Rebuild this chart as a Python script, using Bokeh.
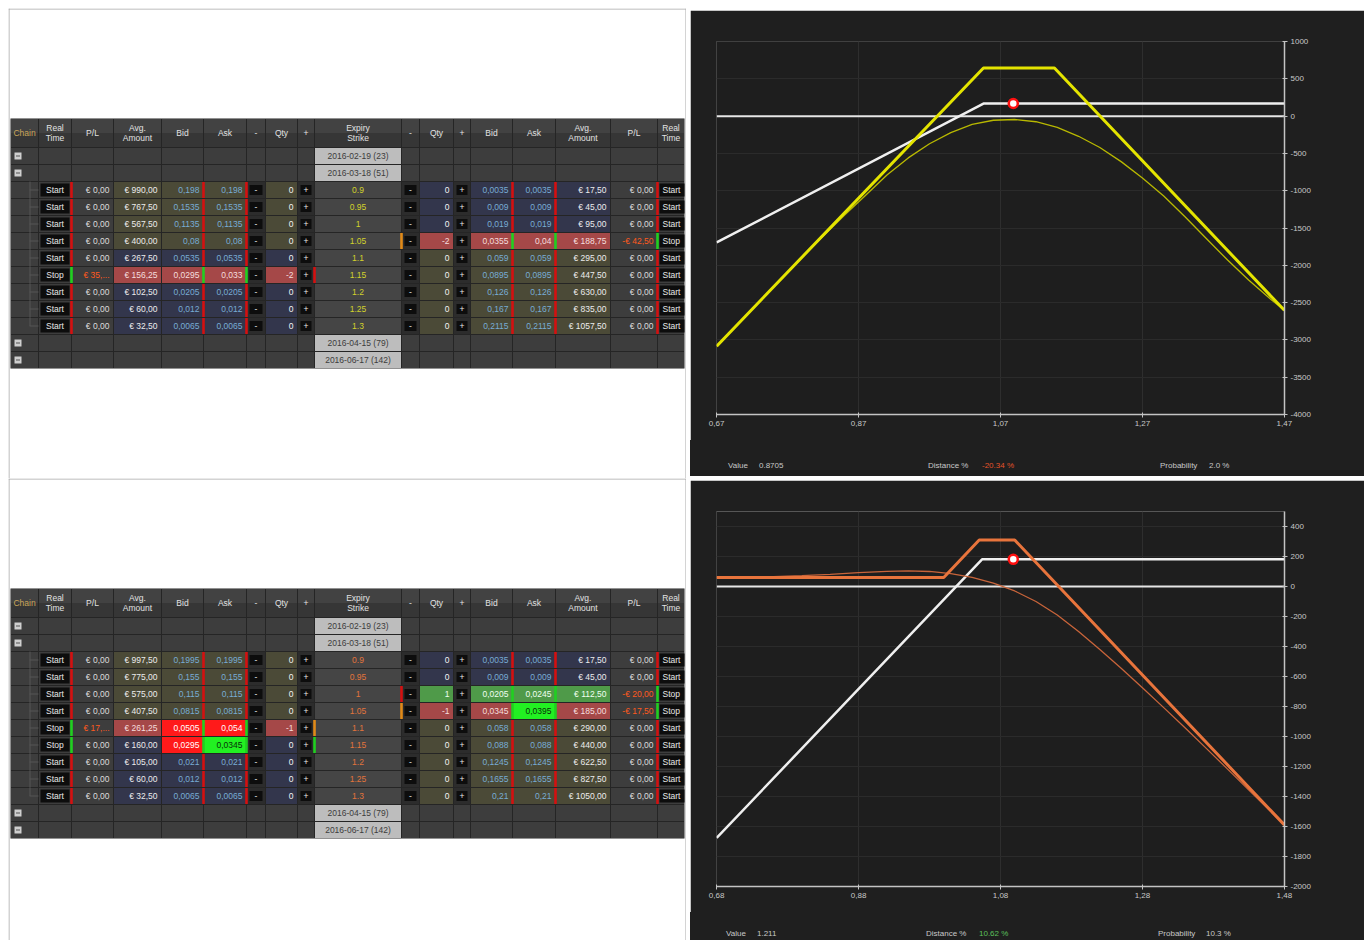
from bokeh.plotting import figure
from bokeh.layouts import row, column
from bokeh.models import Range1d, FixedTicker, CustomJSTickFormatter, Span, Div
from bokeh.core.properties import value
from bokeh.embed import file_html
from bokeh.resources import INLINE

FONT = "Liberation Sans"

# ---------------- table data ----------------
header_top = ["Chain", "Real", "P/L", "Avg.", "Bid", "Ask", "-", "Qty", "+", "Expiry",
              "-", "Qty", "+", "Bid", "Ask", "Avg.", "P/L", "Real"]
header_bottom = ["", "Time", "", "Amount", "", "", "", "", "", "Strike",
                 "", "", "", "", "", "Amount", "", "Time"]
expiry_before = ["2016-02-19 (23)", "2016-03-18 (51)"]
expiry_after = ["2016-04-15 (79)", "2016-06-17 (142)"]
strikes = ["0.9", "0.95", "1", "1.05", "1.1", "1.15", "1.2", "1.25", "1.3"]

# table 1 (calls = left, puts = right)
t1_call_rt = ["Start", "Start", "Start", "Start", "Start", "Stop", "Start", "Start", "Start"]
t1_call_pl = ["€ 0,00", "€ 0,00", "€ 0,00", "€ 0,00", "€ 0,00", "€ 35,...", "€ 0,00", "€ 0,00", "€ 0,00"]
t1_call_avg = ["€ 990,00", "€ 767,50", "€ 567,50", "€ 400,00", "€ 267,50", "€ 156,25", "€ 102,50", "€ 60,00", "€ 32,50"]
t1_call_bid = ["0,198", "0,1535", "0,1135", "0,08", "0,0535", "0,0295", "0,0205", "0,012", "0,0065"]
t1_call_ask = ["0,198", "0,1535", "0,1135", "0,08", "0,0535", "0,033", "0,0205", "0,012", "0,0065"]
t1_call_qty = ["0", "0", "0", "0", "0", "-2", "0", "0", "0"]
t1_put_qty = ["0", "0", "0", "-2", "0", "0", "0", "0", "0"]
t1_put_bid = ["0,0035", "0,009", "0,019", "0,0355", "0,059", "0,0895", "0,126", "0,167", "0,2115"]
t1_put_ask = ["0,0035", "0,009", "0,019", "0,04", "0,059", "0,0895", "0,126", "0,167", "0,2115"]
t1_put_avg = ["€ 17,50", "€ 45,00", "€ 95,00", "€ 188,75", "€ 295,00", "€ 447,50", "€ 630,00", "€ 835,00", "€ 1057,50"]
t1_put_pl = ["€ 0,00", "€ 0,00", "€ 0,00", "-€ 42,50", "€ 0,00", "€ 0,00", "€ 0,00", "€ 0,00", "€ 0,00"]
t1_put_rt = ["Start", "Start", "Start", "Stop", "Start", "Start", "Start", "Start", "Start"]

# table 2
t2_call_rt = ["Start", "Start", "Start", "Start", "Stop", "Stop", "Start", "Start", "Start"]
t2_call_pl = ["€ 0,00", "€ 0,00", "€ 0,00", "€ 0,00", "€ 17,...", "€ 0,00", "€ 0,00", "€ 0,00", "€ 0,00"]
t2_call_avg = ["€ 997,50", "€ 775,00", "€ 575,00", "€ 407,50", "€ 261,25", "€ 160,00", "€ 105,00", "€ 60,00", "€ 32,50"]
t2_call_bid = ["0,1995", "0,155", "0,115", "0,0815", "0,0505", "0,0295", "0,021", "0,012", "0,0065"]
t2_call_ask = ["0,1995", "0,155", "0,115", "0,0815", "0,054", "0,0345", "0,021", "0,012", "0,0065"]
t2_call_qty = ["0", "0", "0", "0", "-1", "0", "0", "0", "0"]
t2_put_qty = ["0", "0", "1", "-1", "0", "0", "0", "0", "0"]
t2_put_bid = ["0,0035", "0,009", "0,0205", "0,0345", "0,058", "0,088", "0,1245", "0,1655", "0,21"]
t2_put_ask = ["0,0035", "0,009", "0,0245", "0,0395", "0,058", "0,088", "0,1245", "0,1655", "0,21"]
t2_put_avg = ["€ 17,50", "€ 45,00", "€ 112,50", "€ 185,00", "€ 290,00", "€ 440,00", "€ 622,50", "€ 827,50", "€ 1050,00"]
t2_put_pl = ["€ 0,00", "€ 0,00", "-€ 20,00", "-€ 17,50", "€ 0,00", "€ 0,00", "€ 0,00", "€ 0,00", "€ 0,00"]
t2_put_rt = ["Start", "Start", "Stop", "Stop", "Start", "Start", "Start", "Start", "Start"]

# ---------------- chart data ----------------
c1_xticks = [0.67, 0.87, 1.07, 1.27, 1.47]
c1_xlabels = ["0,67", "0,87", "1,07", "1,27", "1,47"]
c1_yticks = [1000, 500, 0, -500, -1000, -1500, -2000, -2500, -3000, -3500, -4000]
c1_ylabels = ["1000", "500", "0", "-500", "-1000", "-1500", "-2000", "-2500", "-3000", "-3500", "-4000"]
c1_exp_x = [0.67, 1.046, 1.146, 1.47]
c1_exp_y = [-3085, 646, 646, -2604]
c1_t0_x = [0.67, 0.75, 0.80, 0.85, 0.88, 0.91, 0.94, 0.97, 1.00, 1.03, 1.06, 1.09, 1.12,
           1.15, 1.18, 1.21, 1.24, 1.27, 1.30, 1.33, 1.36, 1.39, 1.42, 1.45, 1.47]
c1_t0_y = [-3085, -2290, -1800, -1330, -1060, -790, -560, -370, -220, -110, -55, -45, -75,
           -150, -270, -420, -610, -830, -1070, -1350, -1640, -1930, -2200, -2450, -2604]
c1_now_x = [0.67, 1.046, 1.47]
c1_now_y = [-1694, 169, 169]
c1_zero_x = [0.67, 1.47]
c1_zero_y = [0, 0]
c1_mark_x = [1.088]
c1_mark_y = [169]
c1_info_names = ["Value", "Distance %", "Probability"]
c1_info_values = ["0.8705", "-20.34 %", "2.0 %"]

c2_xticks = [0.68, 0.88, 1.08, 1.28, 1.48]
c2_xlabels = ["0,68", "0,88", "1,08", "1,28", "1,48"]
c2_yticks = [400, 200, 0, -200, -400, -600, -800, -1000, -1200, -1400, -1600, -1800, -2000]
c2_ylabels = ["400", "200", "0", "-200", "-400", "-600", "-800", "-1000", "-1200", "-1400",
              "-1600", "-1800", "-2000"]
c2_exp_x = [0.68, 1.00, 1.05, 1.10, 1.48]
c2_exp_y = [60, 60, 310, 310, -1590]
c2_t0_x = [0.68, 0.72, 0.76, 0.80, 0.84, 0.88, 0.92, 0.95, 0.98, 1.01, 1.04, 1.07, 1.10,
           1.13, 1.16, 1.19, 1.22, 1.25, 1.28, 1.31, 1.34, 1.37, 1.40, 1.44, 1.48]
c2_t0_y = [60, 62, 66, 72, 81, 92, 101, 104, 100, 86, 60, 22, -30,
           -100, -190, -300, -420, -545, -675, -808, -942, -1080, -1218, -1404, -1590]
c2_now_x = [0.68, 1.054, 1.48]
c2_now_y = [-1677, 181, 181]
c2_zero_x = [0.68, 1.48]
c2_zero_y = [0, 0]
c2_mark_x = [1.098]
c2_mark_y = [181]
c2_info_names = ["Value", "Distance %", "Probability"]
c2_info_values = ["1.211", "10.62 %", "10.3 %"]

# ---------------- styles / layout ----------------
W_L, W_R = 678, 674
H_TOP, H_BOT = 470, 462
COL_W = [28, 33, 42, 48, 42, 43, 19, 32, 17, 87, 18, 34, 17, 42, 43, 55, 47, 27]
T_LEFT, T_TOP, HDR, RH = 2, 110, 29, 17
PANEL = "#1f1f1f"

BG = {"itm": "#4b4a37", "otm": "#33364c", "short": "#a54848", "long": "#4f9a49",
      "red": "#ff1a1a", "green": "#22f022"}
FG_NUM = {"itm": "#78acd4", "otm": "#78acd4", "short": "#f5dede", "long": "#f0fff0",
          "red": "#ffffff", "green": "#083008"}
RED_BAR, GREEN_BAR, ORANGE_BAR = "#d41010", "#20d020", "#e08a18"

t1_call_style = [["itm"] * 4] * 4 + [["otm"] * 4, ["short"] * 4] + [["otm"] * 4] * 3
t1_put_style = [["otm"] * 4] * 3 + [["short"] * 4] + [["itm"] * 4] * 5
t2_call_style = [["itm"] * 4] * 4 + [["short", "red", "red", "short"],
                                     ["otm", "red", "green", "otm"]] + [["otm"] * 4] * 3
t2_put_style = [["otm"] * 4] * 2 + [["long"] * 4, ["short", "short", "green", "short"]] + [["itm"] * 4] * 5
t1_call_extra = {5: RED_BAR}
t1_put_extra = {3: ORANGE_BAR}
t2_call_extra = {4: ORANGE_BAR, 5: GREEN_BAR}
t2_put_extra = {2: RED_BAR, 3: ORANGE_BAR}


def make_table(height, call, put, call_style, put_style, call_extra, put_extra, strike_color):
    p = figure(width=W_L, height=height, x_range=Range1d(0, W_L), y_range=Range1d(height, 0),
               x_axis_type=None, y_axis_type=None, output_backend="svg", toolbar_location=None,
               min_border=0, background_fill_color="white", border_fill_color="white",
               outline_line_color=None)
    p.grid.visible = False
    for loc in (0.5, W_L - 0.5):
        p.add_layout(Span(location=loc, dimension="height", line_color="#a8a8a8", line_width=1))
    p.add_layout(Span(location=0.5, dimension="width", line_color="#a8a8a8", line_width=1))

    edges = [T_LEFT]
    for w in COL_W:
        edges.append(edges[-1] + w)
    nrows = 13
    bottom = T_TOP + HDR + nrows * RH
    Q = dict(left=[], right=[], top=[], bottom=[], color=[])
    TX = {a: dict(x=[], y=[], text=[], color=[]) for a in ("left", "center", "right")}

    def quad(l, r, t, b, c):
        Q["left"].append(l); Q["right"].append(r); Q["top"].append(t); Q["bottom"].append(b)
        Q["color"].append(c)

    def cell(c, y0, y1, color):
        quad(edges[c] + 0.5, edges[c + 1] - 0.5, y0 + 0.5, y1 - 0.5, color)

    def txt(align, c, y, s, color):
        if align == "right":
            x = edges[c + 1] - 4
        elif align == "left":
            x = edges[c] + 4
        else:
            x = (edges[c] + edges[c + 1]) / 2
        TX[align]["x"].append(x); TX[align]["y"].append(y)
        TX[align]["text"].append(s); TX[align]["color"].append(color)

    def button(c, y0, y1, s, insx=2.5, insy=2.5):
        quad(edges[c] + insx, edges[c + 1] - insx, y0 + insy, y1 - insy, "#0d0d0d")
        txt("center", c, (y0 + y1) / 2, s, "#e8e8e8")

    quad(edges[0], edges[-1], T_TOP, bottom, "#252525")
    # header
    for c in range(18):
        cell(c, T_TOP, T_TOP + HDR, "#363636")
        quad(edges[c] + 0.5, edges[c + 1] - 0.5, T_TOP + 0.5, T_TOP + HDR / 2, "#424242")
        col = "#c9a55a" if c == 0 else "#e2e2e2"
        yc = T_TOP + HDR / 2
        if header_bottom[c]:
            txt("center", c, yc - 5, header_top[c], col)
            txt("center", c, yc + 5, header_bottom[c], col)
        else:
            txt("center", c, yc, header_top[c], col)

    date_rows = {0: expiry_before[0], 1: expiry_before[1], 11: expiry_after[0], 12: expiry_after[1]}
    for r in range(nrows):
        y0 = T_TOP + HDR + r * RH
        y1 = y0 + RH
        yc = (y0 + y1) / 2
        if r in date_rows:
            for c in range(18):
                cell(c, y0, y1, "#bdbdbd" if c == 9 else "#3d3d3d")
            txt("center", 9, yc, date_rows[r], "#3c3c3c")
            quad(edges[0] + 4, edges[0] + 11, yc - 3.5, yc + 3.5, "#cfcfcf")
            quad(edges[0] + 5.5, edges[0] + 9.5, yc - 0.6, yc + 0.6, "#555555")
            continue
        i = r - 2
        cs, ps = call_style[i], put_style[i]
        for c in (0, 1, 2, 16, 17):
            cell(c, y0, y1, "#3d3d3d")
        cell(9, y0, y1, "#454545")
        for c in (6, 8, 10, 12):
            cell(c, y0, y1, "#2c2c2c")
        # calls
        cell(3, y0, y1, BG[cs[0]]); cell(4, y0, y1, BG[cs[1]])
        cell(5, y0, y1, BG[cs[2]]); cell(7, y0, y1, BG[cs[3]])
        # puts
        cell(11, y0, y1, BG[ps[0]]); cell(13, y0, y1, BG[ps[1]])
        cell(14, y0, y1, BG[ps[2]]); cell(15, y0, y1, BG[ps[3]])
        # tree
        quad(edges[0] + 19, edges[0] + 20, y0, y1 if r < 10 else yc, "#565656")
        quad(edges[0] + 19, edges[1], yc - 0.5, yc + 0.5, "#565656")
        # buttons
        button(1, y0, y1, call[0][i], 2, 2)
        quad(edges[17] + 2, edges[18], y0 + 2, y1 - 2, "#0d0d0d")
        TX["left"]["x"].append(edges[17] + 5); TX["left"]["y"].append(yc)
        TX["left"]["text"].append(put[5][i]); TX["left"]["color"].append("#e8e8e8")
        for c, s in ((6, "-"), (8, "+"), (10, "-"), (12, "+")):
            button(c, y0, y1, s, 3, 3.5)

        def pl_col(s):
            return "#dcdcdc" if s == "€ 0,00" else "#ff5a1e"
        txt("right", 2, yc, call[1][i], pl_col(call[1][i]))
        txt("right", 3, yc, call[2][i], "#ececec" if cs[0] in ("itm", "otm") else FG_NUM[cs[0]])
        txt("right", 4, yc, call[3][i], FG_NUM[cs[1]])
        txt("right", 5, yc, call[4][i], FG_NUM[cs[2]])
        txt("right", 7, yc, call[5][i], "#f2f2f2" if cs[3] in ("itm", "otm") else FG_NUM[cs[3]])
        txt("center", 9, yc, strikes[i], strike_color)
        txt("right", 11, yc, put[0][i], "#f2f2f2" if ps[0] in ("itm", "otm") else FG_NUM[ps[0]])
        txt("right", 13, yc, put[1][i], FG_NUM[ps[1]])
        txt("right", 14, yc, put[2][i], FG_NUM[ps[2]])
        txt("right", 15, yc, put[3][i], "#ececec" if ps[3] in ("itm", "otm") else FG_NUM[ps[3]])
        txt("right", 16, yc, put[4][i], pl_col(put[4][i]))
        # status bars
        lbar = GREEN_BAR if call[0][i] == "Stop" else RED_BAR
        rbar = GREEN_BAR if put[5][i] == "Stop" else RED_BAR
        for b in (edges[2], edges[5], edges[6]):
            quad(b - 1.3, b + 1.3, y0 + 0.5, y1 - 0.5, lbar)
        for b in (edges[14], edges[15], edges[17]):
            quad(b - 1.3, b + 1.3, y0 + 0.5, y1 - 0.5, rbar)
        if i in call_extra:
            quad(edges[9] - 1.3, edges[9] + 1.3, y0 + 0.5, y1 - 0.5, call_extra[i])
        if i in put_extra:
            quad(edges[10] - 1.3, edges[10] + 1.3, y0 + 0.5, y1 - 0.5, put_extra[i])

    p.quad(left=Q["left"], right=Q["right"], top=Q["top"], bottom=Q["bottom"],
           fill_color=Q["color"], line_color=None)
    for a, d in TX.items():
        p.text(x=d["x"], y=d["y"], text=d["text"], text_color=d["color"], text_align=a,
               text_baseline="middle", text_font=value(FONT), text_font_size=value("8.5px"))
    return p


def label_formatter(tick_values, tick_labels):
    return CustomJSTickFormatter(args=dict(tvals=tick_values, tlabs=tick_labels), code="""
        let best = -1, bd = 1e12;
        for (let i = 0; i < tvals.length; i++) {
            const d = Math.abs(tvals[i] - tick);
            if (d < bd) { bd = d; best = i; }
        }
        return bd < 1e-6 * Math.max(1, Math.abs(tick)) ? tlabs[best] : '';
    """)


def make_chart(height, margin, xticks, xlabels, yticks, ylabels, ytop, exp_x, exp_y, t0_x, t0_y,
               now_x, now_y, zero_x, zero_y, mk_x, mk_y, color, t0_color, bottom_border):
    p = figure(width=W_R, height=height, margin=margin,
               x_range=Range1d(xticks[0] - 0.0002, xticks[-1] + 0.0002),
               y_range=Range1d(yticks[-1] - 1, ytop),
               y_axis_location="right", output_backend="svg", toolbar_location=None,
               min_border_left=26, min_border_right=80, min_border_top=31,
               min_border_bottom=bottom_border,
               background_fill_color="#1e1e1e", border_fill_color=PANEL,
               outline_line_color=None)
    p.xaxis.ticker = FixedTicker(ticks=xticks)
    p.yaxis.ticker = FixedTicker(ticks=yticks)
    p.xaxis.formatter = label_formatter(xticks, xlabels)
    p.yaxis.formatter = label_formatter(yticks, ylabels)
    for ax in (p.xaxis, p.yaxis):
        ax.axis_line_color = "#c4c4c4"
        ax.axis_line_width = 1.5
        ax.major_tick_line_color = "#c4c4c4"
        ax.major_tick_out = 3
        ax.major_tick_in = 2
        ax.minor_tick_line_color = None
        ax.major_label_text_color = "#c8c8c8"
        ax.major_label_text_font = FONT
        ax.major_label_text_font_size = "8px"
        ax.major_label_standoff = 3
    p.xgrid.grid_line_color = "#2e2e2e"
    p.ygrid.grid_line_color = "#2b2b2b"

    p.line(zero_x, zero_y, line_color="#e6e6e6", line_width=2)
    p.line(now_x, now_y, line_color="#efefef", line_width=2.5)
    p.line(t0_x, t0_y, line_color=t0_color, line_width=1.3)
    p.line(exp_x, exp_y, line_color=color, line_width=3)
    p.scatter(mk_x, mk_y, size=9, fill_color="#ffffff", line_color="#ff1010", line_width=2.5)
    return p


def make_info(height, margin, names, values, value_colors, xs, ytext):
    texts, colors = [], []
    for k in range(3):
        texts += [names[k], values[k]]
        colors += ["#c8c8c8", value_colors[k]]
    spans = "".join(
        f'<span style="position:absolute;left:{x}px;top:{ytext - 5}px;color:{c};'
        f'white-space:nowrap;">{t}</span>'
        for x, t, c in zip(xs, texts, colors))
    html = (f'<div style="position:relative;width:{W_R}px;height:{height}px;'
            f'background:{PANEL};font-family:\'{FONT}\',sans-serif;font-size:8px;'
            f'line-height:10px;margin:0;padding:0;">{spans}</div>')
    return Div(text=html, width=W_R, height=height, margin=margin,
               styles={"background-color": PANEL, "overflow": "hidden"})


t1 = make_table(H_TOP,
                [t1_call_rt, t1_call_pl, t1_call_avg, t1_call_bid, t1_call_ask, t1_call_qty],
                [t1_put_qty, t1_put_bid, t1_put_ask, t1_put_avg, t1_put_pl, t1_put_rt],
                t1_call_style, t1_put_style, t1_call_extra, t1_put_extra, "#d2d22c")
t2 = make_table(H_BOT,
                [t2_call_rt, t2_call_pl, t2_call_avg, t2_call_bid, t2_call_ask, t2_call_qty],
                [t2_put_qty, t2_put_bid, t2_put_ask, t2_put_avg, t2_put_pl, t2_put_rt],
                t2_call_style, t2_put_style, t2_call_extra, t2_put_extra, "#e2743c")

# chart 1: page y 10..440 plot, 440..476 info
c1 = make_chart(430, (2, 0, 0, 4), c1_xticks, c1_xlabels, c1_yticks, c1_ylabels, 1001,
                c1_exp_x, c1_exp_y, c1_t0_x, c1_t0_y, c1_now_x, c1_now_y, c1_zero_x, c1_zero_y,
                c1_mark_x, c1_mark_y, "#e4e400", "#b8b800", 26)
i1 = make_info(36, (0, 0, 2, 4), c1_info_names, c1_info_values,
               ["#c8c8c8", "#e4532a", "#c8c8c8"], [38, 69, 238, 292, 470, 519], 26)
# chart 2: page y 480..912 plot, 912..940 info
c2 = make_chart(432, (2, 0, 0, 4), c2_xticks, c2_xlabels, c2_yticks, c2_ylabels, 500,
                c2_exp_x, c2_exp_y, c2_t0_x, c2_t0_y, c2_now_x, c2_now_y, c2_zero_x, c2_zero_y,
                c2_mark_x, c2_mark_y, "#e8743c", "#c8643a", 26)
i2 = make_info(28, (0, 0, 0, 4), c2_info_names, c2_info_values,
               ["#c8c8c8", "#5cc05c", "#c8c8c8"], [36, 67, 236, 289, 468, 516], 22)

layout = row(column(t1, t2), column(c1, i1, c2, i2), margin=(8, 0, 0, 8))
open("out.html", "w").write(file_html(layout, INLINE))
